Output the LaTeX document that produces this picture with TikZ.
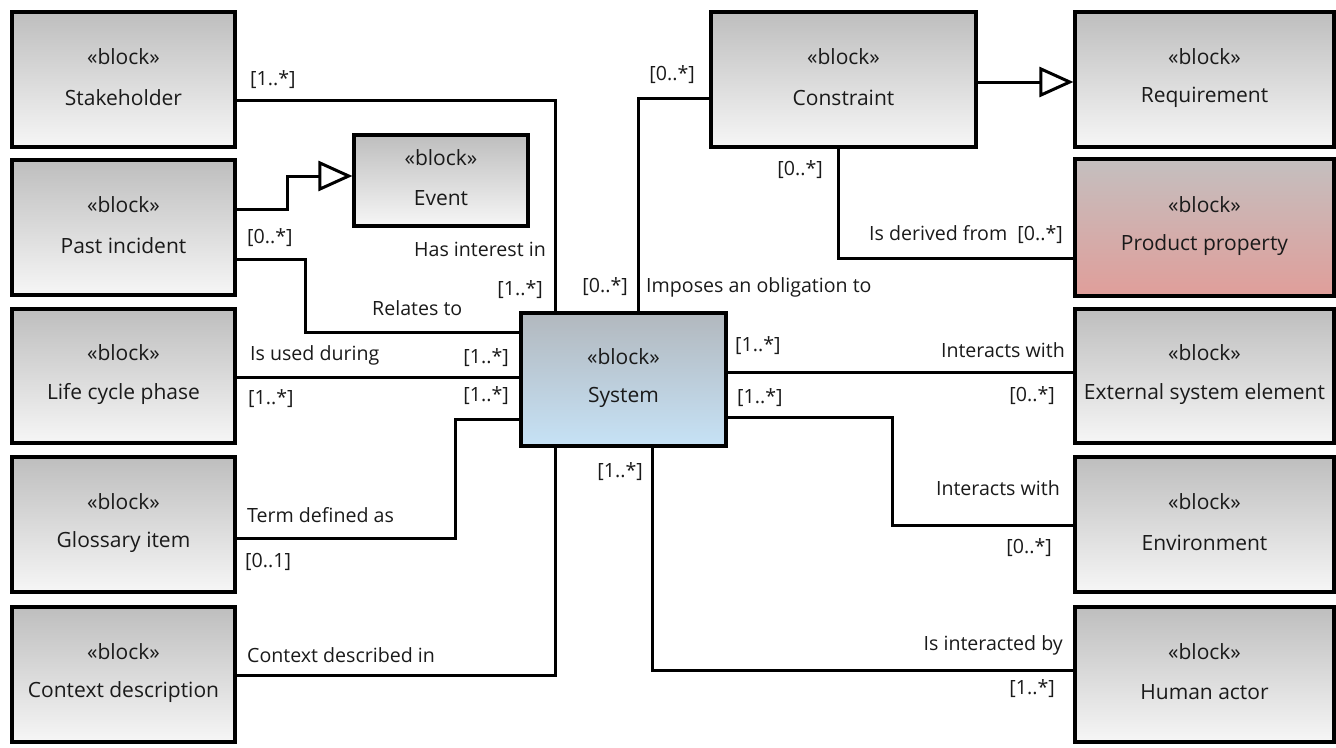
\documentclass[tikz,border=0pt]{standalone}
\usepackage{fontspec}
\setmainfont{Open Sans}
\usetikzlibrary{arrows.meta}

\definecolor{boxtop}{HTML}{BEBEBE}
\definecolor{boxbot}{HTML}{F6F6F6}
\definecolor{systop}{HTML}{B2B8BE}
\definecolor{sysbot}{HTML}{C6E2F6}
\definecolor{proptop}{HTML}{C4BFBF}
\definecolor{propbot}{HTML}{E09E9A}
\definecolor{ink}{HTML}{1A1A1A}

\tikzset{
  plainblock/.style={draw=black, line width=3.2pt, inner sep=0pt,
    top color=boxtop, bottom color=boxbot},
  sysblock/.style={plainblock, top color=systop, bottom color=sysbot},
  propblock/.style={plainblock, top color=proptop, bottom color=propbot},
  blocktext/.style={font=\fontsize{21}{25}\selectfont, text=ink, inner sep=0pt},
  lbl/.style={font=\fontsize{19.6}{24}\selectfont, text=ink, inner sep=0pt,
    text height=14pt, text depth=4pt},
  conn/.style={draw=black, line width=3pt},
  gen/.style={-{Triangle[open, length=34pt, width=30pt, line width=3pt]}},
}

% \umlblock[style]{name}{x1}{y1}{x2}{y2}{title}
\newcommand\umlblock[7][plainblock]{%
  \node[#1, minimum width={#5-#3}, minimum height={#6-#4}] (#2)
    at ({(#3+#5)/2},{(#4+#6)/2}) {};
  \node[blocktext] (#2-st) at ([yshift=23pt]#2.center) {«block»};
  \node[blocktext] (#2-nm) at ([yshift=-18pt]#2.center) {#7};
}

\begin{document}
\begin{tikzpicture}[x=1pt, y=-1pt]
\useasboundingbox (0,0) rectangle (1336,747);

% left column
\umlblock{stake}{12}{12}{235}{147}{Stakeholder}
\umlblock{past}{12}{160}{235}{295}{Past incident}
\umlblock{life}{12}{309}{235}{443}{Life cycle phase}
\umlblock{gloss}{12}{457}{235}{592}{Glossary item}
\umlblock{ctx}{12}{607}{235}{742}{Context description}

% middle
\umlblock{event}{354}{135}{528}{226}{Event}
\umlblock[sysblock]{system}{521}{313}{726}{446}{System}
\umlblock{constraint}{711}{12}{976}{147}{Constraint}

% right column
\umlblock{req}{1075}{12}{1334}{147}{Requirement}
\umlblock[propblock]{prop}{1075}{159}{1334}{296}{Product property}
\umlblock{ext}{1075}{309}{1334}{443}{External system element}
\umlblock{env}{1075}{457}{1334}{592}{Environment}
\umlblock{human}{1075}{607}{1334}{742}{Human actor}

% generalizations
\draw[conn, gen] (past.east |- 0,209) -- (287,209) -- (287,176) -- (event.west |- 0,176);
\draw[conn, gen] (constraint.east |- 0,82) -- (req.west |- 0,82);

% associations to System
\draw[conn] (stake.east |- 0,100) -- (555,100) -- (system.north -| 555,0);
\node[lbl, anchor=west] (l-st1) at (250,80) {[1..*]};
\node[lbl, anchor=east] (l-st2) at (546,251) {Has interest in};
\node[lbl, anchor=east] (l-st3) at (543,290) {[1..*]};

\draw[conn] (past.east |- 0,259) -- (305,259) -- (305,332) -- (system.west |- 0,332);
\node[lbl, anchor=west] (l-pi1) at (247,238) {[0..*]};
\node[lbl, anchor=west] (l-pi2) at (372,310) {Relates to};

\draw[conn] (life.east |- 0,377) -- (system.west |- 0,377);
\node[lbl, anchor=west] (l-lc1) at (250,355) {Is used during};
\node[lbl, anchor=east] (l-lc2) at (509,358) {[1..*]};
\node[lbl, anchor=west] (l-lc3) at (248,399) {[1..*]};

\draw[conn] (gloss.east |- 0,538) -- (455,538) -- (455,419) -- (system.west |- 0,419);
\node[lbl, anchor=east] (l-gl1) at (509,396) {[1..*]};
\node[lbl, anchor=west] (l-gl2) at (247,517) {Term defined as};
\node[lbl, anchor=west] (l-gl3) at (245,562) {[0..1]};

\draw[conn] (ctx.east |- 0,675) -- (555,675) -- (system.south -| 555,0);
\node[lbl, anchor=west] (l-cd1) at (247,657) {Context described in};

\draw[conn] (system.south -| 652,0) -- (652,670) -- (human.west |- 0,670);
\node[lbl, anchor=east] (l-ha1) at (643,472) {[1..*]};
\node[lbl, anchor=east] (l-ha2) at (1063,645) {Is interacted by};
\node[lbl, anchor=east] (l-ha3) at (1055,689) {[1..*]};

\draw[conn] (system.east |- 0,417) -- (892,417) -- (892,525) -- (env.west |- 0,525);
\node[lbl, anchor=west] (l-en1) at (737,398) {[1..*]};
\node[lbl, anchor=east] (l-en2) at (1060,490) {Interacts with};
\node[lbl, anchor=east] (l-en3) at (1052,548) {[0..*]};

\draw[conn] (system.east |- 0,372) -- (ext.west |- 0,372);
\node[lbl, anchor=west] (l-ex1) at (735,346) {[1..*]};
\node[lbl, anchor=east] (l-ex2) at (1065,352) {Interacts with};
\node[lbl, anchor=east] (l-ex3) at (1055,396) {[0..*]};

\draw[conn] (system.north -| 638,0) -- (638,98) -- (constraint.west |- 0,98);
\node[lbl, anchor=east] (l-co1) at (628,287) {[0..*]};
\node[lbl, anchor=west] (l-co2) at (646,287) {Imposes an obligation to};
\node[lbl, anchor=east] (l-co3) at (695,75) {[0..*]};

% Constraint to Product property
\draw[conn] (constraint.south -| 838,0) -- (838,258) -- (prop.west |- 0,258);
\node[lbl, anchor=east] (l-pp1) at (823,170) {[0..*]};
\node[lbl, anchor=east] (l-pp2) at (1063,235) {Is derived from\ \ [0..*]};

\end{tikzpicture}
\end{document}
